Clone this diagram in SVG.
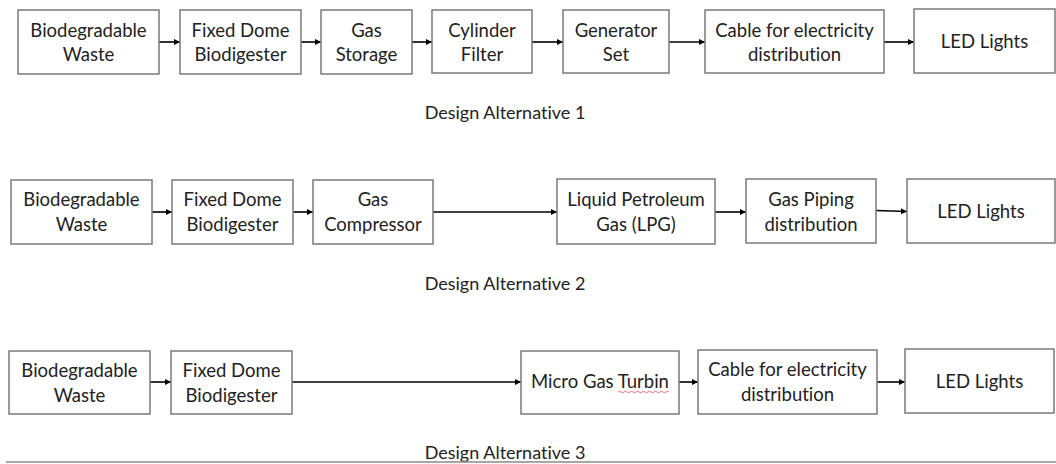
<svg xmlns="http://www.w3.org/2000/svg" width="1056" height="464" viewBox="0 0 1056 464">
<defs>
<style>
.box{fill:#ffffff;stroke:#7a7a7a;stroke-width:1.5}
.t{font-family:Lato,"Liberation Sans",sans-serif;font-size:18.5px;fill:#222222;text-anchor:middle;font-variant-ligatures:none}
.cap{font-family:Lato,"Liberation Sans",sans-serif;font-size:18px;fill:#222222;text-anchor:middle;font-variant-ligatures:none}
.c{stroke:#000000;stroke-width:1.6;fill:none;marker-end:url(#ah)}
</style>
<marker id="ah" viewBox="0 0 10 10" refX="10" refY="5" markerWidth="4" markerHeight="4" markerUnits="strokeWidth" orient="auto">
<path d="M0,0 L10,5 L0,10 z" fill="#000000"/>
</marker>
</defs>
<rect width="1056" height="464" fill="#ffffff"/>

<g id="connectors">
<line class="c" x1="159" y1="42" x2="180" y2="42"/>
<line class="c" x1="301" y1="42" x2="321" y2="42"/>
<line class="c" x1="412" y1="42" x2="432" y2="42"/>
<line class="c" x1="532" y1="42" x2="563" y2="42"/>
<line class="c" x1="669" y1="42" x2="705" y2="42"/>
<line class="c" x1="884" y1="42" x2="914" y2="42"/>

<line class="c" x1="152" y1="212" x2="172" y2="212"/>
<line class="c" x1="293" y1="212" x2="313" y2="212"/>
<line class="c" x1="433" y1="212" x2="557" y2="212"/>
<line class="c" x1="715" y1="212" x2="746" y2="212"/>
<line class="c" x1="876" y1="210.5" x2="907" y2="211.5"/>

<line class="c" x1="150" y1="382" x2="171" y2="382"/>
<line class="c" x1="292" y1="382" x2="521" y2="382"/>
<line class="c" x1="679" y1="382" x2="698" y2="382"/>
<line class="c" x1="877" y1="382" x2="905" y2="382"/>
</g>

<g id="r1n1"><rect class="box" x="18" y="10" width="141" height="64"/><text class="t" x="88.5" y="36.5">Biodegradable</text><text class="t" x="88.5" y="61">Waste</text></g>
<g id="r1n2"><rect class="box" x="180" y="10" width="121" height="64"/><text class="t" x="240.5" y="36.5">Fixed Dome</text><text class="t" x="240.5" y="61">Biodigester</text></g>
<g id="r1n3"><rect class="box" x="321" y="10" width="91" height="64"/><text class="t" x="366.5" y="36.5">Gas</text><text class="t" x="366.5" y="61">Storage</text></g>
<g id="r1n4"><rect class="box" x="432" y="10" width="100" height="63"/><text class="t" x="482" y="36.5">Cylinder</text><text class="t" x="482" y="61">Filter</text></g>
<g id="r1n5"><rect class="box" x="563" y="10" width="106" height="63"/><text class="t" x="616" y="36.5">Generator</text><text class="t" x="616" y="61">Set</text></g>
<g id="r1n6"><rect class="box" x="705" y="10" width="179" height="63"/><text class="t" x="794.5" y="36.5">Cable for electricity</text><text class="t" x="794.5" y="61">distribution</text></g>
<g id="r1n7"><rect class="box" x="914" y="9" width="141" height="64"/><text class="t" x="984.5" y="48">LED Lights</text></g>
<g id="cap1"><text class="cap" x="505" y="118.5">Design Alternative 1</text></g>

<g id="r2n1"><rect class="box" x="11" y="180" width="141" height="64"/><text class="t" x="81.5" y="206">Biodegradable</text><text class="t" x="81.5" y="230.5">Waste</text></g>
<g id="r2n2"><rect class="box" x="172" y="180" width="121" height="64"/><text class="t" x="232.5" y="206">Fixed Dome</text><text class="t" x="232.5" y="230.5">Biodigester</text></g>
<g id="r2n3"><rect class="box" x="313" y="180" width="120" height="64"/><text class="t" x="373" y="206">Gas</text><text class="t" x="373" y="230.5">Compressor</text></g>
<g id="r2n4"><rect class="box" x="557" y="179" width="158" height="65"/><text class="t" x="636" y="206">Liquid Petroleum</text><text class="t" x="636" y="230.5">Gas (LPG)</text></g>
<g id="r2n5"><rect class="box" x="746" y="179" width="130" height="64"/><text class="t" x="811" y="206">Gas Piping</text><text class="t" x="811" y="230.5">distribution</text></g>
<g id="r2n6"><rect class="box" x="907" y="179" width="148" height="64"/><text class="t" x="981" y="218">LED Lights</text></g>
<g id="cap2"><text class="cap" x="505" y="289.5">Design Alternative 2</text></g>

<g id="r3n1"><rect class="box" x="9" y="351" width="141" height="63"/><text class="t" x="79.5" y="377">Biodegradable</text><text class="t" x="79.5" y="401.5">Waste</text></g>
<g id="r3n2"><rect class="box" x="171" y="351" width="121" height="63"/><text class="t" x="231.5" y="377">Fixed Dome</text><text class="t" x="231.5" y="401.5">Biodigester</text></g>
<g id="r3n3"><rect class="box" x="521" y="351" width="158" height="63"/><text class="t" x="600" y="388">Micro Gas Turbin</text><path d="M618,392 q1.5,-1.5 3,0 t3,0 t3,0 t3,0 t3,0 t3,0 t3,0 t3,0 t3,0 t3,0 t3,0 t3,0 t3,0 t3,0 t3,0 t3,0 t3,0" fill="none" stroke="#e06060" stroke-width="0.9"/></g>
<g id="r3n4"><rect class="box" x="698" y="350" width="179" height="64"/><text class="t" x="787.5" y="376">Cable for electricity</text><text class="t" x="787.5" y="400.5">distribution</text></g>
<g id="r3n5"><rect class="box" x="905" y="349" width="149" height="64"/><text class="t" x="979.5" y="388">LED Lights</text></g>
<g id="cap3"><text class="cap" x="505" y="458.5">Design Alternative 3</text></g>

<line x1="6" y1="462" x2="1056" y2="462" stroke="#8a8a8a" stroke-width="1.5"/>
</svg>
